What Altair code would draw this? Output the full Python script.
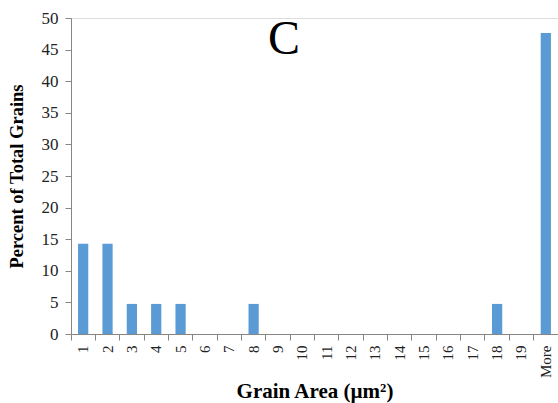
import altair as alt
import pandas as pd

# Grain-area histogram bins and the share of grains in each
bins = ["1", "2", "3", "4", "5", "6", "7", "8", "9", "10", "11", "12", "13",
        "14", "15", "16", "17", "18", "19", "More"]
percent = [14.29, 14.29, 4.76, 4.76, 4.76, 0, 0, 4.76, 0, 0, 0, 0, 0,
           0, 0, 0, 0, 4.76, 0, 47.62]

df = pd.DataFrame({"bin": bins, "percent": percent})

serif = "Liberation Serif"
axis_color = "#8a8580"

bars = alt.Chart(df).mark_bar(
    color="#5B9BD5", width=alt.RelativeBandSize(0.42)
).encode(
    x=alt.X(
        "bin:N", sort=bins,
        scale=alt.Scale(paddingInner=0, paddingOuter=0),
        axis=alt.Axis(
            title="Grain Area (µm²)", titleFont=serif, titleFontSize=21,
            titleFontWeight="bold", titleColor="black", titlePadding=3,
            labelFont=serif, labelFontSize=15, labelColor="#222222",
            labelAngle=270, labelPadding=5,
            bandPosition=0, tickSize=6, tickColor=axis_color,
            domainColor=axis_color, grid=False,
        ),
    ),
    y=alt.Y(
        "percent:Q",
        scale=alt.Scale(domain=[0, 50], nice=False),
        axis=alt.Axis(
            title="Percent of Total Grains", titleFont=serif, titleFontSize=18.5,
            titleFontWeight="bold", titleColor="black", titlePadding=15,
            labelFont=serif, labelFontSize=17, labelColor="#222222",
            values=list(range(0, 55, 5)), tickSize=6, tickColor=axis_color,
            domainColor=axis_color, grid=False, labelPadding=7,
        ),
    ),
)

label = alt.Chart(pd.DataFrame({"t": ["C"]})).mark_text(
    font=serif, fontSize=48, color="black", baseline="middle", align="center"
).encode(text="t:N", x=alt.value(213), y=alt.value(22))

chart = (bars + label).properties(
    width=487, height=316,
    autosize=alt.AutoSizeParams(type="none"),
    padding={"left": 71, "top": 18, "right": 0, "bottom": 69},
).configure_view(stroke=None).configure(background="white")

chart.save("out.html", embed_options={"renderer": "svg", "actions": False})
